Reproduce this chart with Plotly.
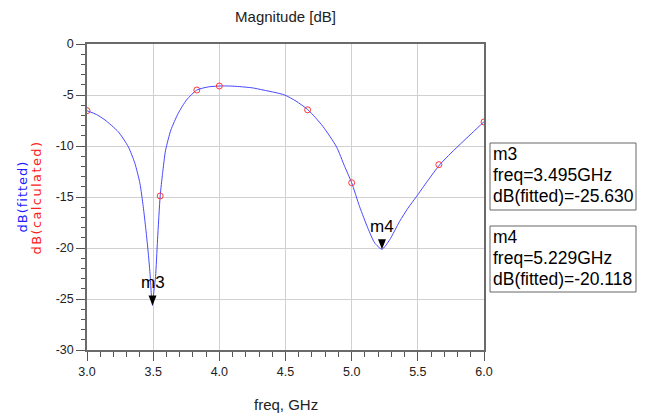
import plotly.graph_objects as go

# ---------------- data ----------------
fit_freq = [3.0, 3.07, 3.136, 3.236, 3.312, 3.362, 3.40, 3.425, 3.445, 3.463, 3.478, 3.486,
            3.495, 3.505, 3.518, 3.533, 3.553, 3.571, 3.594, 3.634, 3.689, 3.752, 3.83,
            3.92, 4.0, 4.08, 4.155, 4.25, 4.33, 4.42, 4.494, 4.58, 4.666, 4.725, 4.784,
            4.885, 4.947, 5.0, 5.06, 5.123, 5.174, 5.229, 5.287, 5.362, 5.425, 5.489,
            5.575, 5.664, 5.75, 5.84, 5.92, 6.0]
fit_db = [-6.54, -6.9, -7.45, -8.6, -10.07, -11.7, -13.66, -15.95, -18.2, -20.5, -22.8, -24.5,
          -25.63, -24.3, -22.8, -19.2, -14.9, -12.7, -10.4, -8.43, -6.8, -5.49, -4.51,
          -4.2, -4.12, -4.12, -4.18, -4.3, -4.51, -4.75, -5.0, -5.6, -6.41, -7.2, -8.1,
          -10.07, -12.0, -13.6, -15.95, -18.07, -19.5, -20.12, -19.2, -17.4, -16.1, -14.97,
          -13.4, -11.86, -10.7, -9.58, -8.6, -7.62]

calc_freq = [3.0, 3.553, 3.83, 4.0, 4.667, 5.0, 5.659, 6.0]
calc_db = [-6.54, -14.9, -4.51, -4.12, -6.45, -13.6, -11.83, -7.65]

marker_names = ["m3", "m4"]
marker_freq = [3.495, 5.229]
marker_db = [-25.630, -20.118]

x_ticks = [3.0, 3.5, 4.0, 4.5, 5.0, 5.5, 6.0]
x_ticklabels = ["3.0", "3.5", "4.0", "4.5", "5.0", "5.5", "6.0"]
y_ticks = [0, -5, -10, -15, -20, -25, -30]
y_ticklabels = ["0", "-5", "-10", "-15", "-20", "-25", "-30"]

# ---------------- layout helpers ----------------
SANS = "Liberation Sans, Arial, sans-serif"
WIDE = "DejaVu Sans, Verdana, sans-serif"
W, H = 652, 419
L, R, T, B = 87, 168, 44, 69
PW = W - L - R
PH = H - T - B


def px_x(px):
    return (px - L) / PW


def px_y(py):
    return (H - B - py) / PH


fig = go.Figure()
fig.add_trace(go.Scatter(
    x=fit_freq, y=fit_db, mode="lines", name="dB(fitted)",
    line=dict(color="#4848ff", width=1, shape="spline", smoothing=0.6),
    hoverinfo="skip"))
fig.add_trace(go.Scatter(
    x=calc_freq, y=calc_db, mode="markers", name="dB(calculated)",
    marker=dict(symbol="circle-open", size=6, color="#ff3838", line=dict(width=1)),
    hoverinfo="skip"))

axis_common = dict(
    showline=True, linecolor="#6a6a6a", linewidth=1.5, mirror=True,
    showgrid=True, gridcolor="#d0d0d0", gridwidth=1, zeroline=False,
    ticks="outside", tickcolor="#555555", tickwidth=1,
    tickfont=dict(family=SANS, size=12.5, color="#222222"),
)

fig.update_xaxes(range=[3, 6], tickmode="array", tickvals=x_ticks, ticktext=x_ticklabels,
                 ticklen=9, ticklabelstandoff=0,
                 minor=dict(tick0=3, dtick=0.1, ticks="outside", ticklen=5,
                            tickcolor="#555555", showgrid=False),
                 **axis_common)
fig.update_yaxes(range=[-30, 0], tickmode="array", tickvals=y_ticks, ticktext=y_ticklabels,
                 ticklen=9,
                 minor=dict(tick0=0, dtick=1, ticks="outside", ticklen=4,
                            tickcolor="#555555", showgrid=False),
                 **axis_common)

annotations = []
shapes = []

# axis titles
annotations.append(dict(xref="paper", yref="paper", x=0.5, y=px_y(404), text="freq, GHz",
                        showarrow=False, xanchor="center", yanchor="middle",
                        font=dict(family=SANS, size=15, color="#222222")))
annotations.append(dict(xref="paper", yref="paper", x=px_x(21.5), y=0.5,
                        text="<span style='letter-spacing:1px'>dB(fitted)</span>",
                        textangle=-90, showarrow=False, xanchor="center", yanchor="middle",
                        font=dict(family=WIDE, size=13, color="#2020ff")))
annotations.append(dict(xref="paper", yref="paper", x=px_x(35.5), y=0.5,
                        text="<span style='letter-spacing:1.4px'>dB(calculated)</span>",
                        textangle=-90, showarrow=False, xanchor="center", yanchor="middle",
                        font=dict(family=WIDE, size=13, color="#ff2020")))

# markers on the trace
for name, f, v in zip(marker_names, marker_freq, marker_db):
    shapes.append(dict(type="path", xref="x", yref="y", xsizemode="pixel", ysizemode="pixel",
                       xanchor=f, yanchor=v, path="M-4,10 L4,10 L0,0 Z",
                       fillcolor="black", line=dict(width=0)))
    annotations.append(dict(xref="x", yref="y", x=f, y=v, text=name, showarrow=False,
                            xanchor="center", yanchor="middle", yshift=23,
                            font=dict(family=SANS, size=17, color="black")))

# readout boxes
box_tops = [143, 226]
box_bottoms = [210, 292]
for i, (name, f, v) in enumerate(zip(marker_names, marker_freq, marker_db)):
    top, bot = box_tops[i], box_bottoms[i]
    shapes.append(dict(type="rect", xref="paper", yref="paper",
                       x0=px_x(490), x1=px_x(636), y0=px_y(bot), y1=px_y(top),
                       line=dict(color="#666666", width=1), fillcolor="rgba(0,0,0,0)"))
    lines = [name, f"freq={f:.3f}GHz", f"dB(fitted)={v:.3f}"]
    for j, txt in enumerate(lines):
        annotations.append(dict(xref="paper", yref="paper", x=px_x(491), y=px_y(top + 11 + 21 * j),
                                text=txt, showarrow=False, xanchor="left", yanchor="middle",
                                font=dict(family=SANS, size=17.5, color="black")))

fig.update_layout(
    width=W, height=H, margin=dict(l=L, r=R, t=T, b=B, autoexpand=False),
    paper_bgcolor="white", plot_bgcolor="white", showlegend=False,
    title=dict(text="Magnitude [dB]", xref="paper", x=0.5, xanchor="center",
               yref="container", y=1 - 17 / H, yanchor="middle",
               font=dict(family=SANS, size=15, color="#222222")),
    annotations=annotations, shapes=shapes,
)

fig.write_html("out.html", config={"displayModeBar": False},
               post_script="document.body.style.margin='0px';")
